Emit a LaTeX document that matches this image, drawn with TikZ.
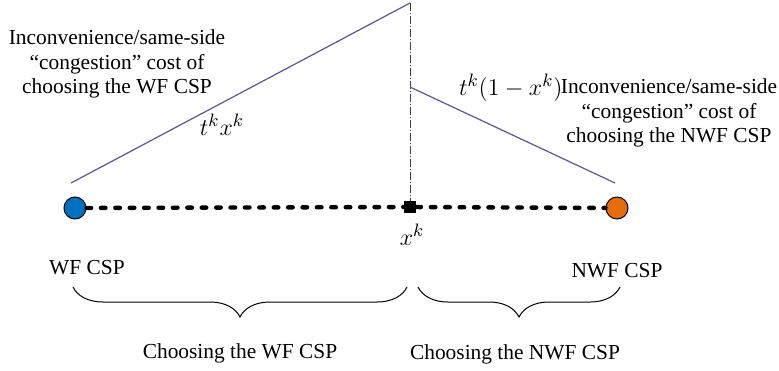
\documentclass[tikz,border=0pt]{standalone}
\usepackage{fontspec}
\setmainfont{Liberation Serif}
\usetikzlibrary{positioning,calc,decorations.pathreplacing}
\definecolor{wfblue}{HTML}{0070C0}
\definecolor{nwforange}{HTML}{E46C0A}
\definecolor{costpurple}{HTML}{5E5592}
\definecolor{axisgray}{HTML}{404040}

\begin{document}
\begin{tikzpicture}[
  x=0.5pt, y=-0.5pt,
  font=\fontsize{10.7}{12.3}\selectfont,
  csp/.style={circle, draw=black, line width=0.5pt, minimum size=11pt, inner sep=0pt},
  split/.style={rectangle, fill=black, minimum size=6pt, inner sep=0pt},
  choice/.style={draw=black, line width=2.2pt, line cap=round, dash pattern=on 2.3pt off 4.9pt},
  cost/.style={draw=costpurple, line width=0.6pt},
  divide/.style={draw=axisgray, line width=0.5pt, dash pattern=on 4pt off 1pt on 0.5pt off 1pt},
  note/.style={align=center, inner sep=0pt},
  mathlbl/.style={inner sep=0pt, font=\fontsize{13}{15}\selectfont},
  choicebrace/.style={draw=black, line width=0.5pt, decorate, decoration={brace, mirror, amplitude=15pt}}
]
  \useasboundingbox (0,0) rectangle (779,370);
  \clip (0,0) rectangle (779,370);

  % endpoints and split point
  \node[csp, fill=wfblue] (wf) at (75,208) {};
  \node[csp, fill=nwforange] (nwf) at (617,208) {};
  \node[split] (xk) at (410,207) {};
  \draw[choice] (wf) -- (xk);
  \draw[choice] (xk) -- (nwf);

  % cost lines
  \coordinate (peak) at (410,3);
  \coordinate (wfend) at (71,183);
  \coordinate (mid) at (410,87);
  \coordinate (nwfend) at (615,183);
  \draw[divide] (peak) -- (xk.north);
  \draw[cost] (wfend) -- (peak);
  \draw[cost] (mid) -- (nwfend);

  \node[note] (wfcost) at (117,64) {Inconvenience/same-side\\``congestion'' cost of\\choosing the WF CSP};
  \node[note] (nwfcost) at (669,113) {Inconvenience/same-side\\``congestion'' cost of\\choosing the NWF CSP};
  \node[mathlbl] (wfexpr) at (222,125) {$t^k x^k$};
  \node[mathlbl, anchor=east] (nwfexpr) at (563,88) {$t^k(1-x^k)$};
  \node[mathlbl] (xklbl) at (412,235) {$x^k$};

  \node[inner sep=0pt] (wflbl) at (87,268) {WF CSP};
  \node[inner sep=0pt] (nwflbl) at (617,271) {NWF CSP};

  % braces
  \coordinate (lb1) at (73,287);
  \coordinate (lb2) at (407,287);
  \coordinate (rb1) at (418,287);
  \coordinate (rb2) at (620,287);
  \draw[choicebrace] (lb1) -- (lb2);
  \draw[choicebrace] (rb1) -- (rb2);
  \node[inner sep=0pt] (wfchoice) at (240,353) {Choosing the WF CSP};
  \node[inner sep=0pt] (nwfchoice) at (515,354) {Choosing the NWF CSP};
\end{tikzpicture}
\end{document}
